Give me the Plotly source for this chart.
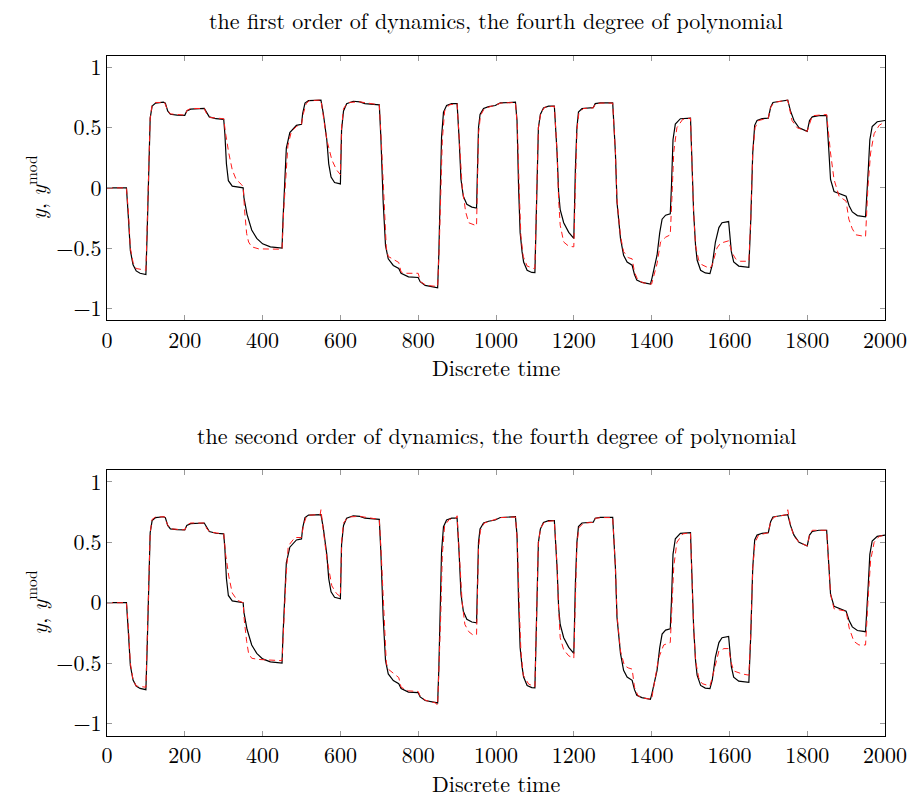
import plotly.graph_objects as go

# ---- data: measured output y (shared by both panels) ----
t_y = [0, 50, 55, 60, 67, 75, 85, 100, 103, 107, 111, 116, 125, 145, 150, 156, 163, 180, 200, 205, 215, 250,
       255, 263, 280, 300, 303, 307, 312, 322, 350, 352, 360, 372, 385, 400, 420, 450, 452, 456, 461, 470, 487,
       500, 503, 509, 518, 550, 556, 565, 570, 576, 585, 600, 603, 608, 616, 633, 650, 663, 700, 704, 710, 716,
       723, 736, 750, 756, 775, 800, 805, 818, 850, 853, 856, 860, 865, 873, 886, 900, 905, 910, 916, 925, 938,
       950, 955, 959, 968, 981, 998, 1011, 1050, 1054, 1058, 1062, 1067, 1071, 1080, 1092, 1100, 1105, 1109,
       1114, 1122, 1135, 1150, 1157, 1161, 1165, 1174, 1187, 1200, 1204, 1208, 1212, 1221, 1250, 1255, 1268,
       1300, 1307, 1311, 1320, 1328, 1337, 1350, 1356, 1362, 1375, 1397, 1401, 1414, 1421, 1427, 1436, 1448,
       1451, 1455, 1461, 1474, 1500, 1504, 1508, 1513, 1517, 1526, 1538, 1550, 1556, 1564, 1573, 1581, 1598,
       1605, 1611, 1624, 1650, 1655, 1660, 1665, 1671, 1684, 1700, 1706, 1712, 1727, 1750, 1757, 1766, 1779,
       1796, 1800, 1806, 1813, 1830, 1850, 1856, 1860, 1869, 1890, 1900, 1908, 1916, 1929, 1950, 1957, 1961,
       1967, 1980, 2000]
y_meas = [0, 0, -0.25, -0.52, -0.64, -0.69, -0.71, -0.72, -0.4, 0.2, 0.58, 0.68, 0.705, 0.712, 0.705, 0.64,
          0.612, 0.605, 0.603, 0.64, 0.655, 0.66, 0.63, 0.59, 0.575, 0.57, 0.45, 0.2, 0.06, 0.015, 0.0, -0.08,
          -0.22, -0.35, -0.42, -0.465, -0.49, -0.5, -0.3, 0.05, 0.33, 0.46, 0.52, 0.528, 0.62, 0.705, 0.726,
          0.73, 0.62, 0.4, 0.2, 0.09, 0.045, 0.033, 0.48, 0.64, 0.70, 0.72, 0.715, 0.70, 0.69, 0.42, -0.12,
          -0.48, -0.59, -0.645, -0.67, -0.71, -0.74, -0.745, -0.78, -0.81, -0.83, -0.55, -0.15, 0.42, 0.63,
          0.685, 0.70, 0.70, 0.42, 0.07, -0.07, -0.137, -0.16, -0.167, 0.5, 0.61, 0.66, 0.675, 0.685, 0.706,
          0.712, 0.56, 0.01, -0.37, -0.53, -0.616, -0.685, -0.703, -0.705, 0.01, 0.5, 0.61, 0.665, 0.68, 0.68,
          0.29, -0.04, -0.18, -0.29, -0.37, -0.42, 0.15, 0.5, 0.63, 0.66, 0.667, 0.70, 0.706, 0.706, 0.29,
          -0.12, -0.42, -0.56, -0.616, -0.643, -0.72, -0.767, -0.786, -0.8, -0.75, -0.56, -0.37, -0.26, -0.227,
          -0.216, 0.01, 0.40, 0.53, 0.575, 0.58, 0.2, -0.2, -0.48, -0.6, -0.685, -0.707, -0.712, -0.64, -0.45,
          -0.33, -0.29, -0.28, -0.53, -0.616, -0.65, -0.66, -0.26, 0.29, 0.52, 0.56, 0.575, 0.58, 0.67, 0.71,
          0.718, 0.73, 0.64, 0.56, 0.5, 0.48, 0.47, 0.56, 0.59, 0.6, 0.6, 0.29, 0.07, -0.03, -0.055, -0.07,
          -0.15, -0.2, -0.23, -0.24, 0.15, 0.4, 0.51, 0.55, 0.56]

# ---- model output, first order of dynamics ----
t_m1 = [0, 50, 55, 60, 67, 75, 100, 103, 107, 111, 116, 125, 148, 155, 163, 200, 206, 215, 250, 257, 265, 300,
        305, 313, 322, 332, 345, 350, 354, 359, 364, 372, 390, 450, 454, 460, 465, 474, 487, 500, 505, 512, 520,
        550, 556, 565, 578, 590, 600, 603, 608, 620, 650, 700, 705, 712, 718, 723, 740, 750, 756, 770, 800, 806,
        820, 850, 854, 858, 862, 868, 880, 900, 906, 913, 922, 930, 950, 955, 960, 970, 1000, 1012, 1050, 1055,
        1060, 1064, 1070, 1080, 1097, 1100, 1105, 1109, 1115, 1125, 1150, 1157, 1161, 1165, 1174, 1187, 1200,
        1204, 1208, 1213, 1225, 1250, 1256, 1270, 1300, 1307, 1311, 1320, 1328, 1340, 1350, 1356, 1365, 1380,
        1400, 1414, 1423, 1436, 1448, 1452, 1457, 1465, 1480, 1500, 1504, 1508, 1513, 1521, 1530, 1547, 1550,
        1556, 1568, 1577, 1598, 1607, 1616, 1628, 1650, 1655, 1660, 1666, 1675, 1700, 1706, 1715, 1750, 1761,
        1774, 1796, 1800, 1813, 1850, 1860, 1869, 1882, 1900, 1907, 1916, 1925, 1950, 1956, 1963, 1972, 1985,
        2000]
y_m1 = [0, 0, -0.2, -0.5, -0.62, -0.67, -0.685, -0.35, 0.2, 0.58, 0.69, 0.71, 0.71, 0.65, 0.615, 0.605, 0.645,
        0.66, 0.66, 0.61, 0.585, 0.575, 0.45, 0.29, 0.15, 0.07, 0.03, 0.01, -0.2, -0.38, -0.45, -0.49, -0.507,
        -0.51, -0.2, 0.15, 0.35, 0.47, 0.51, 0.53, 0.62, 0.7, 0.725, 0.73, 0.6, 0.4, 0.233, 0.15, 0.11, 0.5,
        0.66, 0.71, 0.715, 0.69, 0.4, -0.15, -0.5, -0.57, -0.6, -0.62, -0.7, -0.71, -0.71, -0.78, -0.81, -0.82,
        -0.5, -0.1, 0.4, 0.64, 0.69, 0.70, 0.35, 0.01, -0.2, -0.29, -0.315, 0.45, 0.6, 0.66, 0.69, 0.705, 0.71,
        0.5, -0.05, -0.4, -0.57, -0.65, -0.67, -0.67, 0.0, 0.5, 0.62, 0.67, 0.68, 0.3, -0.1, -0.31, -0.45,
        -0.485, -0.49, 0.1, 0.48, 0.62, 0.66, 0.665, 0.7, 0.705, 0.705, 0.3, -0.1, -0.4, -0.53, -0.58, -0.59,
        -0.7, -0.77, -0.79, -0.8, -0.63, -0.45, -0.41, -0.39, -0.1, 0.3, 0.5, 0.57, 0.58, 0.2, -0.2, -0.48,
        -0.6, -0.64, -0.67, -0.67, -0.64, -0.5, -0.46, -0.44, -0.54, -0.59, -0.61, -0.61, -0.26, 0.29, 0.5,
        0.56, 0.58, 0.67, 0.71, 0.73, 0.56, 0.5, 0.475, 0.47, 0.6, 0.61, 0.29, 0.07, -0.07, -0.11, -0.26, -0.34,
        -0.39, -0.405, 0.0, 0.29, 0.45, 0.52, 0.55]

# ---- model output, second order of dynamics ----
t_m2 = [0, 50, 55, 60, 67, 75, 100, 103, 107, 111, 116, 125, 148, 155, 163, 200, 206, 215, 250, 257, 265, 300,
        305, 313, 322, 335, 350, 353, 359, 364, 372, 390, 450, 454, 460, 466, 483, 500, 505, 512, 520, 548, 550,
        556, 565, 578, 590, 600, 603, 608, 620, 650, 700, 705, 712, 718, 723, 740, 750, 756, 775, 800, 806, 820,
        845, 850, 854, 858, 862, 868, 880, 898, 900, 906, 913, 920, 930, 940, 950, 955, 960, 970, 1000, 1012,
        1050, 1055, 1060, 1064, 1070, 1084, 1100, 1105, 1109, 1115, 1125, 1150, 1157, 1161, 1165, 1174, 1187,
        1200, 1204, 1208, 1213, 1225, 1250, 1256, 1270, 1300, 1307, 1311, 1320, 1330, 1340, 1350, 1356, 1365,
        1380, 1400, 1418, 1431, 1448, 1452, 1457, 1465, 1480, 1500, 1504, 1508, 1513, 1521, 1530, 1550, 1556,
        1573, 1586, 1598, 1605, 1611, 1633, 1650, 1655, 1660, 1666, 1675, 1700, 1706, 1715, 1748, 1750, 1757,
        1766, 1779, 1800, 1806, 1813, 1850, 1856, 1860, 1869, 1890, 1900, 1908, 1920, 1933, 1950, 1956, 1963,
        1972, 1985, 2000]
y_m2 = [0, 0, -0.2, -0.5, -0.64, -0.69, -0.70, -0.35, 0.2, 0.58, 0.69, 0.71, 0.712, 0.65, 0.612, 0.603, 0.645,
        0.66, 0.66, 0.61, 0.585, 0.57, 0.4, 0.22, 0.08, 0.02, 0.0, -0.15, -0.32, -0.42, -0.46, -0.47, -0.48,
        -0.2, 0.2, 0.47, 0.54, 0.54, 0.64, 0.71, 0.725, 0.73, 0.77, 0.6, 0.37, 0.14, 0.076, 0.05, 0.5, 0.66,
        0.71, 0.715, 0.69, 0.4, -0.15, -0.5, -0.55, -0.59, -0.62, -0.7, -0.73, -0.735, -0.78, -0.81, -0.83,
        -0.85, -0.5, -0.1, 0.4, 0.64, 0.69, 0.70, 0.72, 0.35, 0.0, -0.18, -0.24, -0.265, -0.265, 0.45, 0.6,
        0.66, 0.69, 0.705, 0.71, 0.5, -0.05, -0.4, -0.6, -0.674, -0.696, 0.0, 0.5, 0.62, 0.67, 0.68, 0.3, -0.05,
        -0.29, -0.39, -0.44, -0.46, 0.1, 0.48, 0.62, 0.66, 0.665, 0.7, 0.705, 0.705, 0.3, -0.1, -0.4, -0.52,
        -0.54, -0.55, -0.7, -0.77, -0.79, -0.8, -0.46, -0.35, -0.33, -0.05, 0.3, 0.5, 0.57, 0.58, 0.2, -0.2,
        -0.48, -0.62, -0.67, -0.69, -0.62, -0.4, -0.38, -0.38, -0.5, -0.565, -0.59, -0.6, -0.26, 0.29, 0.5,
        0.56, 0.58, 0.67, 0.71, 0.73, 0.77, 0.64, 0.55, 0.5, 0.47, 0.56, 0.6, 0.6, 0.29, 0.07, -0.05, -0.065,
        -0.07, -0.21, -0.32, -0.35, -0.35, 0.0, 0.35, 0.5, 0.55, 0.56]

titles = ["the first order of dynamics, the fourth degree of polynomial",
          "the second order of dynamics, the fourth degree of polynomial"]
x_ticks = [0, 200, 400, 600, 800, 1000, 1200, 1400, 1600, 1800, 2000]
y_ticks = [-1, -0.5, 0, 0.5, 1]
y_tick_text = ["\u22121", "\u22120.5", "0", "0.5", "1"]

FONT = "Latin Modern Roman, CMU Serif, DejaVu Serif, serif"
FS = 22
W, H = 917, 799

fig = go.Figure()
for i, (tm, ym) in enumerate([(t_m1, y_m1), (t_m2, y_m2)]):
    xa = "x" if i == 0 else "x2"
    ya = "y" if i == 0 else "y2"
    fig.add_trace(go.Scatter(x=t_y, y=y_meas, mode="lines", xaxis=xa, yaxis=ya,
                             line=dict(color="black", width=1.2), showlegend=False))
    fig.add_trace(go.Scatter(x=tm, y=ym, mode="lines", xaxis=xa, yaxis=ya,
                             line=dict(color="#ff1a1a", width=1.0, dash="6px,4px"), showlegend=False))

# pixel layout of each panel (top, bottom in px from the top of the page)
panels = [(51, 318), (469, 737)]
common_x = dict(range=[0, 2000], tickvals=x_ticks, ticks="inside", ticklen=5, tickcolor="#999999",
                showline=True, linecolor="black", linewidth=1, mirror="ticks", showgrid=False,
                zeroline=False, tickfont=dict(family=FONT, size=FS, color="black"))
common_y = dict(range=[-1.1, 1.1], tickvals=y_ticks, ticktext=y_tick_text, ticks="inside", ticklen=5,
                tickcolor="#999999", showline=True, linecolor="black", linewidth=1, mirror="ticks",
                showgrid=False, zeroline=False, tickfont=dict(family=FONT, size=FS, color="black"))

layout = dict(width=W, height=H, margin=dict(l=107, r=32, t=0, b=0), plot_bgcolor="white",
              paper_bgcolor="white")
annotations = []
for i, (top, bot) in enumerate(panels):
    dom = [1 - bot / H, 1 - top / H]
    xk = "xaxis" if i == 0 else "xaxis2"
    yk = "yaxis" if i == 0 else "yaxis2"
    layout[xk] = dict(common_x, domain=[0, 1], anchor="y" if i == 0 else "y2")
    layout[yk] = dict(common_y, domain=dom, anchor="x" if i == 0 else "x2")
    annotations.append(dict(text=titles[i], x=0.5, xref="paper", y=1 - (top - 36) / H, yref="paper",
                            showarrow=False, font=dict(family=FONT, size=FS, color="black"),
                            xanchor="center", yanchor="middle"))
    annotations.append(dict(text="Discrete time", x=0.5, xref="paper", y=1 - (bot + 47) / H, yref="paper",
                            showarrow=False, font=dict(family=FONT, size=FS, color="black"),
                            xanchor="center", yanchor="middle"))
    annotations.append(dict(text="<i>y</i>, <i>y</i><sup>mod</sup>", x=-(107 - 36) / (W - 139),
                            xref="paper", y=1 - ((top + bot) / 2) / H, yref="paper", textangle=-90,
                            showarrow=False, font=dict(family=FONT, size=FS, color="black"),
                            xanchor="center", yanchor="middle"))
layout["annotations"] = annotations
fig.update_layout(**layout)
fig.write_html("out.html")
